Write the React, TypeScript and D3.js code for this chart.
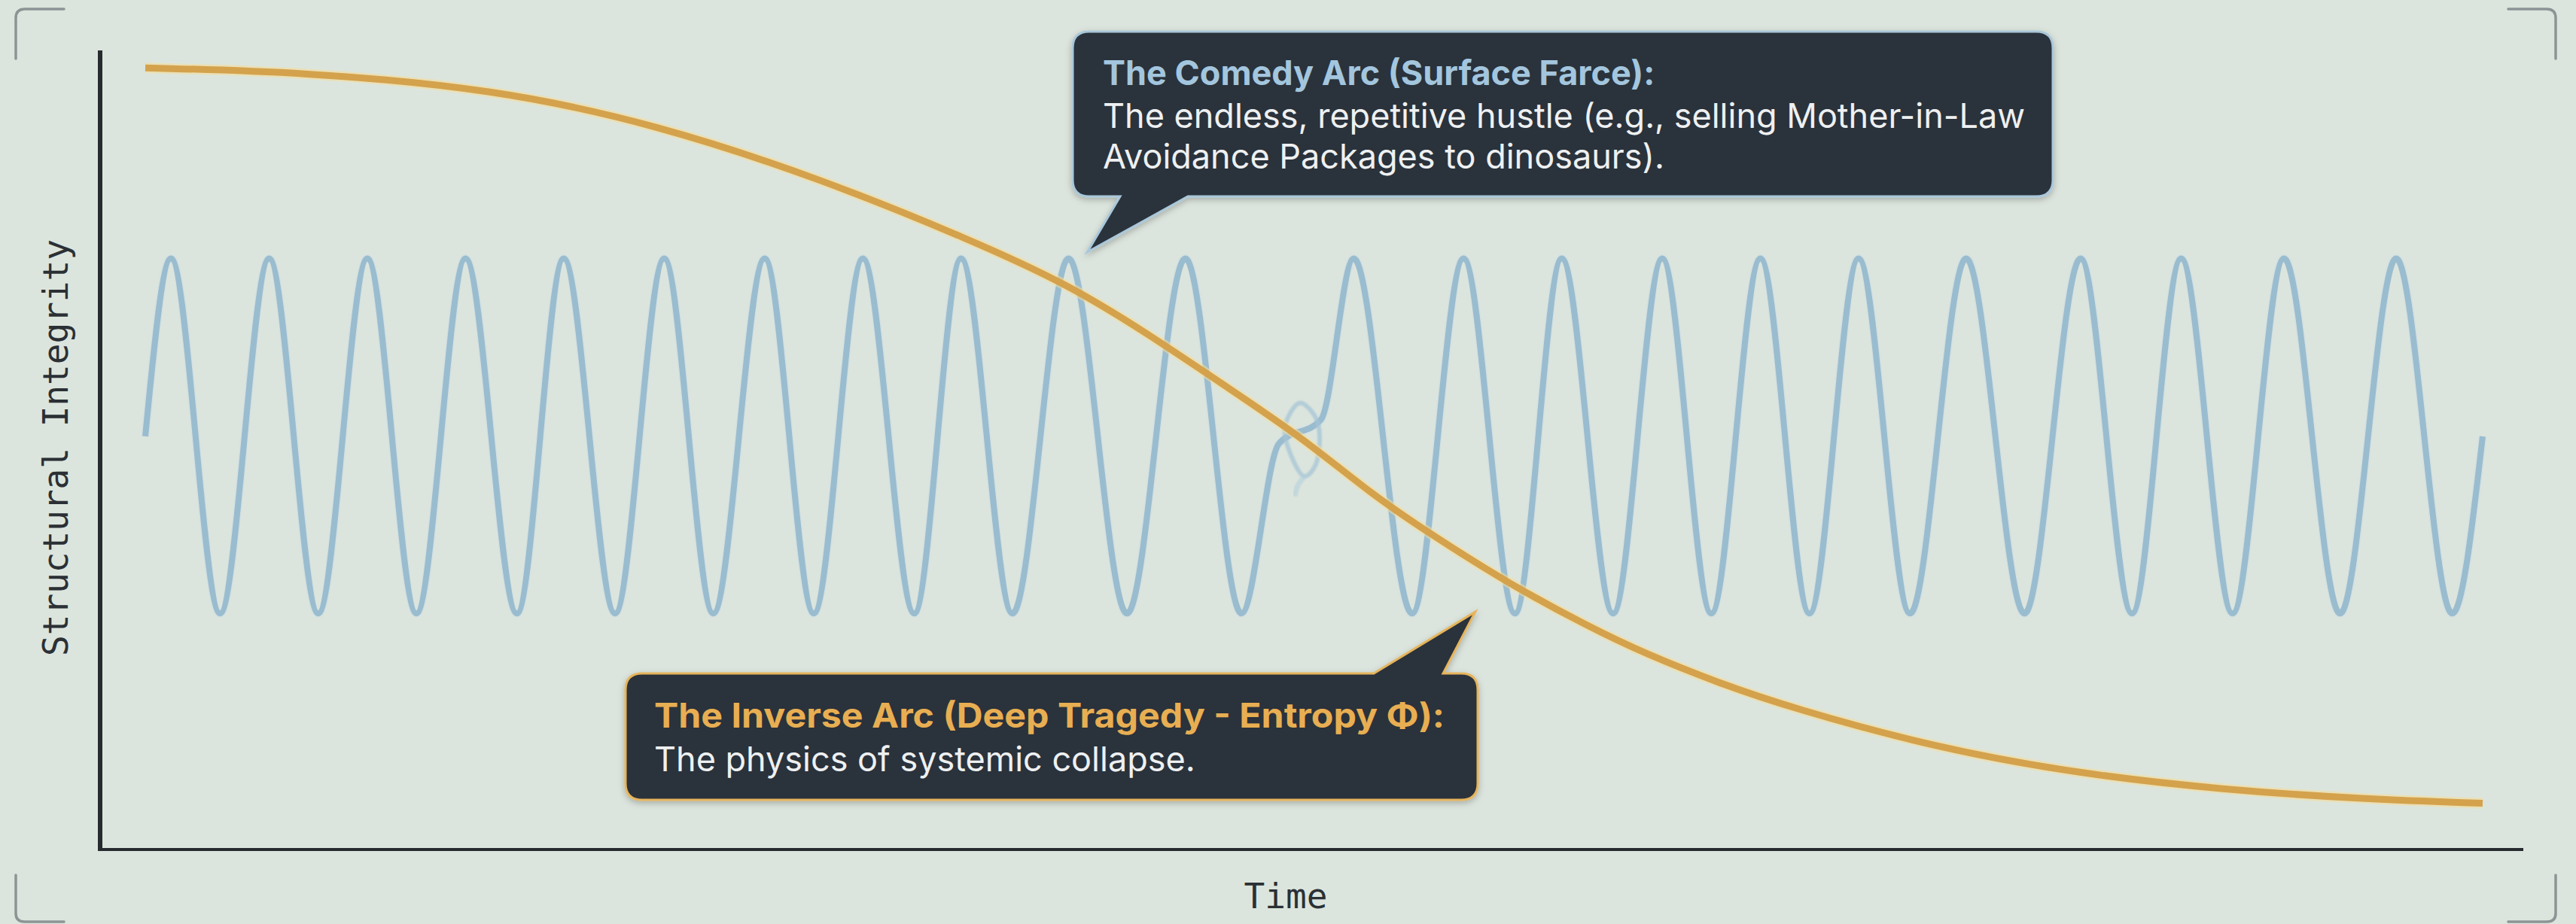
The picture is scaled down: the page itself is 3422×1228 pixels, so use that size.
import React from "react";
import * as d3 from "d3";

// ---- data (time 0..100, structural integrity 0..100) ----
const waveTime = [0, 1.1, 3.2, 5.3, 7.4, 9.5, 11.6, 13.7, 15.9, 17.9, 20.1, 22.2, 24.3, 26.5, 28.6, 30.7, 32.9, 34.9, 37.1, 39.5, 42.0, 44.5, 46.9, 48.5, 50.3, 51.7, 54.2, 56.4, 58.6, 60.6, 62.8, 64.9, 67.0, 69.1, 71.2, 73.3, 75.5, 77.9, 80.4, 82.8, 85.0, 87.1, 89.3, 91.5, 93.9, 96.3, 98.7, 100];
const waveLevel = [51.7, 74, 29.5, 74, 29.5, 74, 29.5, 74, 29.5, 74, 29.5, 74, 29.5, 74, 29.5, 74, 29.5, 74, 29.5, 74, 29.5, 74, 29.5, 50.8, 53.8, 74, 29.5, 74, 29.5, 74, 29.5, 74, 29.5, 74, 29.5, 74, 29.5, 74, 29.5, 74, 29.5, 74, 29.5, 74, 29.5, 74, 29.5, 51.7];

const glitchTime = [48.76, 49.4, 50.14, 50.08, 49.6, 49.08];
const glitchLevel = [52.9, 55.9, 53.6, 48.2, 46.7, 48.9];
const glitchTailTime = [49.6, 49.3, 49.18];
const glitchTailLevel = [46.7, 45.5, 44.2];

const entropyTime = [0, 6.67, 14.88, 21.9, 28.92, 35.43, 39.45, 42.83, 46.22, 49.57, 52.4, 54.91, 58.29, 61.84, 64.22, 67.21, 70.37, 76.55, 82.71, 88.89, 95.04, 100];
const entropyLevel = [97.9, 97.4, 95.3, 90.8, 84.0, 76.2, 70.8, 64.7, 58.0, 51.4, 44.6, 39.6, 33.3, 27.7, 24.4, 20.9, 17.7, 12.7, 9.4, 7.4, 6.2, 5.7];

const comedyTitle = "The Comedy Arc (Surface Farce):";
const comedyLines = ["The endless, repetitive hustle (e.g., selling Mother-in-Law", "Avoidance Packages to dinosaurs)."];
const tragedyTitle = "The Inverse Arc (Deep Tragedy - Entropy \u03A6):";
const tragedyLines = ["The physics of systemic collapse."];
const comedyTip = { t: 40.3, v: 74.8 };
const tragedyTip = { t: 56.9, v: 29.7 };

const xLabel = "Time";
const yLabel = "Structural Integrity";

const W = 3422;
const H = 1228;

function bubblePath(x0: number, y0: number, x1: number, y1: number, r: number, tail: { side: "top" | "bottom"; a: number; b: number; tx: number; ty: number }) {
  const p = d3.path();
  p.moveTo(x0 + r, y0);
  if (tail.side === "top") {
    p.lineTo(tail.a, y0);
    p.lineTo(tail.tx, tail.ty);
    p.lineTo(tail.b, y0);
  }
  p.lineTo(x1 - r, y0);
  p.quadraticCurveTo(x1, y0, x1, y0 + r);
  p.lineTo(x1, y1 - r);
  p.quadraticCurveTo(x1, y1, x1 - r, y1);
  if (tail.side === "bottom") {
    p.lineTo(tail.b, y1);
    p.lineTo(tail.tx, tail.ty);
    p.lineTo(tail.a, y1);
  }
  p.lineTo(x0 + r, y1);
  p.quadraticCurveTo(x0, y1, x0, y1 - r);
  p.lineTo(x0, y0 + r);
  p.quadraticCurveTo(x0, y0, x0 + r, y0);
  p.closePath();
  return p.toString();
}

export default function App() {
  const x = d3.scaleLinear().domain([0, 100]).range([193, 3298]);
  const y = d3.scaleLinear().domain([0, 100]).range([1128, 68]);

  const wavePts = waveTime.map((t, i) => [t, waveLevel[i]] as [number, number]);
  const entPts = entropyTime.map((t, i) => [t, entropyLevel[i]] as [number, number]);
  const glitchPts = glitchTime.map((t, i) => [t, glitchLevel[i]] as [number, number]);
  const glitchTail = glitchTailTime.map((t, i) => [t, glitchTailLevel[i]] as [number, number]);

  const waveLine = d3.line<[number, number]>().x((d) => x(d[0])).y((d) => y(d[1])).curve(d3.curveMonotoneX);
  const entLine = d3.line<[number, number]>().x((d) => x(d[0])).y((d) => y(d[1])).curve(d3.curveBasis);
  const loopLine = d3.line<[number, number]>().x((d) => x(d[0])).y((d) => y(d[1])).curve(d3.curveCatmullRomClosed);
  const tailLine = d3.line<[number, number]>().x((d) => x(d[0])).y((d) => y(d[1])).curve(d3.curveCatmullRom);

  const axisX0 = 133;
  const axisX1 = 3352;
  const axisY = 1129;
  const axisTop = 67;

  const topBox = { x0: 1425, y0: 42, x1: 2727, y1: 261 };
  const botBox = { x0: 831, y0: 895, x1: 1963, y1: 1063 };

  const topPath = bubblePath(topBox.x0, topBox.y0, topBox.x1, topBox.y1, 22, {
    side: "bottom", a: 1488, b: 1578, tx: x(comedyTip.t), ty: y(comedyTip.v),
  });
  const botPath = bubblePath(botBox.x0, botBox.y0, botBox.x1, botBox.y1, 22, {
    side: "top", a: 1825, b: 1917, tx: x(tragedyTip.t), ty: y(tragedyTip.v),
  });

  const bracket = "#8d9495";
  const textFont = "Inter, Roboto, 'Noto Sans', sans-serif";
  const monoFont = "'DejaVu Sans Mono', monospace";

  return (
    <svg width={W} height={H} viewBox={`0 0 ${W} ${H}`} style={{ position: "absolute", left: 0, top: 0, display: "block" }}>
      <defs>
        <filter id="shadow" x="-10%" y="-30%" width="120%" height="160%">
          <feDropShadow dx="0" dy="3" stdDeviation="4" floodColor="#000" floodOpacity="0.25" />
        </filter>
        <filter id="soft" x="-10%" y="-10%" width="120%" height="120%">
          <feGaussianBlur stdDeviation="1.2" />
        </filter>
      </defs>
      <rect x={0} y={0} width={W} height={H} fill="#dce5dd" />

      {/* corner brackets */}
      <g fill="none" stroke={bracket} strokeWidth={3.5} strokeLinecap="round">
        <path d="M21,78 V24 Q21,12 33,12 H85" />
        <path d="M21,1163 V1214 Q21,1225 33,1225 H85" />
        <path d="M3395,78 V24 Q3395,12 3383,12 H3332" />
        <path d="M3395,1163 V1214 Q3395,1225 3383,1225 H3332" />
      </g>

      {/* axes */}
      <line x1={axisX0} y1={axisTop} x2={axisX0} y2={axisY + 2} stroke="#262b2f" strokeWidth={6} />
      <line x1={axisX0} y1={axisY} x2={axisX1} y2={axisY} stroke="#262b2f" strokeWidth={4} />

      <text x={1708} y={1207} fontFamily={monoFont} fontSize={46} fill="#2b3035" textAnchor="middle">{xLabel}</text>
      <text transform="translate(90,595) rotate(-90)" fontFamily={monoFont} fontSize={46} fill="#2b3035" textAnchor="middle">{yLabel}</text>

      {/* comedy wave */}
      <path d={waveLine(wavePts) || ""} fill="none" stroke="#c9dde8" strokeWidth={11} strokeOpacity={0.5} />
      <path d={waveLine(wavePts) || ""} fill="none" stroke="#9abccf" strokeWidth={8} strokeLinejoin="round" />
      <path d={loopLine(glitchPts) || ""} fill="none" stroke="#a6c4d6" strokeWidth={6} strokeOpacity={0.75} filter="url(#soft)" />
      <path d={tailLine(glitchTail) || ""} fill="none" stroke="#b3cedd" strokeWidth={7} strokeOpacity={0.6} filter="url(#soft)" />

      {/* entropy curve */}
      <path d={entLine(entPts) || ""} fill="none" stroke="#f6dc98" strokeWidth={14} strokeOpacity={0.55} />
      <path d={entLine(entPts) || ""} fill="none" stroke="#d4a24c" strokeWidth={9} />

      {/* comedy callout */}
      <path d={topPath} fill="#2a323b" stroke="#a9c7da" strokeWidth={3} filter="url(#shadow)" />
      <text x={1465} y={113} fontFamily={textFont} fontWeight={700} fontSize={45} fill="#a3c6de">{comedyTitle}</text>
      {comedyLines.map((l, i) => (
        <text key={i} x={1465} y={170 + i * 54} fontFamily={textFont} fontSize={45} fill="#eef0f1">{l}</text>
      ))}

      {/* tragedy callout */}
      <path d={botPath} fill="#2a323b" stroke="#e6b45c" strokeWidth={3} filter="url(#shadow)" />
      <text x={869} y={967} fontFamily={textFont} fontWeight={700} fontSize={45} fill="#e8ae52" textLength={1050} lengthAdjust="spacingAndGlyphs">{tragedyTitle}</text>
      {tragedyLines.map((l, i) => (
        <text key={i} x={869} y={1025 + i * 54} fontFamily={textFont} fontSize={45} fill="#eef0f1">{l}</text>
      ))}
    </svg>
  );
}
